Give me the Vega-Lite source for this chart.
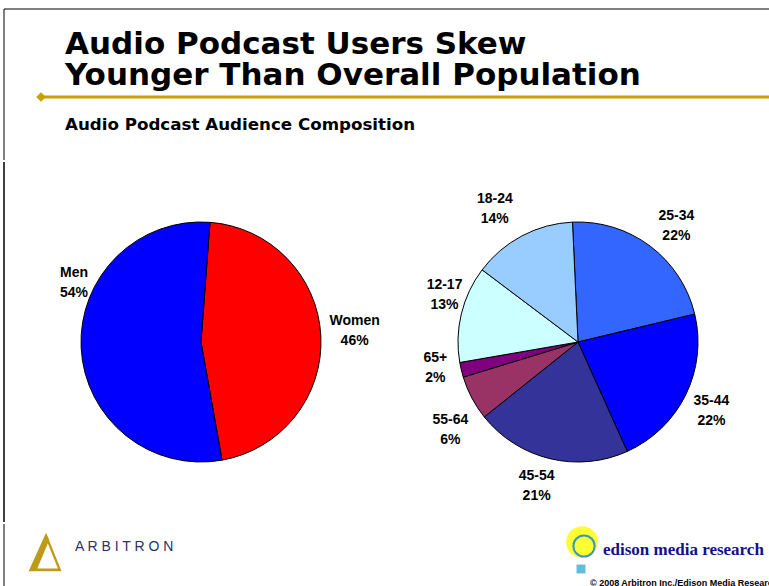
{
  "$schema": "https://vega.github.io/schema/vega-lite/v6.json",
  "background": "white",
  "padding": 0,
  "spacing": 0,
  "config": {"view": {"stroke": null}, "text": {"font": "Liberation Sans"}},
  "vconcat": [
    {
      "width": 769,
      "height": 160,
      "data": {"values": [{}]},
      "layer": [
        {
          "mark": {"type": "rule", "color": "black", "strokeWidth": 1},
          "encoding": {
            "x": {"datum": 4, "type": "quantitative", "scale": {"domain": [0, 769], "nice": false, "zero": false}, "axis": null},
            "x2": {"datum": 769},
            "y": {"datum": 9, "type": "quantitative", "scale": {"domain": [0, 160], "reverse": true, "nice": false, "zero": false}, "axis": null}
          }
        },
        {
          "mark": {"type": "rule", "color": "black", "strokeWidth": 1},
          "encoding": {
            "x": {"datum": 4, "type": "quantitative", "scale": {"domain": [0, 769], "nice": false, "zero": false}, "axis": null},
            "y": {"datum": 9, "type": "quantitative", "scale": {"domain": [0, 160], "reverse": true, "nice": false, "zero": false}, "axis": null},
            "y2": {"datum": 160}
          }
        },
        {
          "mark": {"type": "rule", "color": "#C8A000", "strokeWidth": 3},
          "encoding": {
            "x": {"datum": 40, "type": "quantitative", "scale": {"domain": [0, 769], "nice": false, "zero": false}, "axis": null},
            "x2": {"datum": 769},
            "y": {"datum": 97, "type": "quantitative", "scale": {"domain": [0, 160], "reverse": true, "nice": false, "zero": false}, "axis": null}
          }
        },
        {
          "mark": {"type": "point", "shape": "diamond", "filled": true, "color": "#C8A000", "size": 90, "opacity": 1},
          "encoding": {
            "x": {"datum": 41, "type": "quantitative", "scale": {"domain": [0, 769], "nice": false, "zero": false}, "axis": null},
            "y": {"datum": 97, "type": "quantitative", "scale": {"domain": [0, 160], "reverse": true, "nice": false, "zero": false}, "axis": null}
          }
        },
        {
          "mark": {"type": "text", "text": ["Audio Podcast Users Skew", "Younger Than Overall Population"], "align": "left", "baseline": "alphabetic", "font": "DejaVu Sans", "fontWeight": "bold", "fontSize": 31, "lineHeight": 31, "color": "black"},
          "encoding": {
            "x": {"datum": 65, "type": "quantitative", "scale": {"domain": [0, 769], "nice": false, "zero": false}, "axis": null},
            "y": {"datum": 54, "type": "quantitative", "scale": {"domain": [0, 160], "reverse": true, "nice": false, "zero": false}, "axis": null}
          }
        },
        {
          "mark": {"type": "text", "text": "Audio Podcast Audience Composition", "align": "left", "baseline": "alphabetic", "font": "DejaVu Sans", "fontWeight": "bold", "fontSize": 16.7, "color": "black"},
          "encoding": {
            "x": {"datum": 65, "type": "quantitative", "scale": {"domain": [0, 769], "nice": false, "zero": false}, "axis": null},
            "y": {"datum": 130, "type": "quantitative", "scale": {"domain": [0, 160], "reverse": true, "nice": false, "zero": false}, "axis": null}
          }
        }
      ]
    },
    {
      "spacing": 0,
      "resolve": {"scale": {"color": "independent", "theta": "independent"}},
      "hconcat": [
        {
          "width": 402,
          "height": 360,
          "data": {"values": [
            {"sex": "Women", "share": 0.46, "rank": 1},
            {"sex": "Men", "share": 0.54, "rank": 2}
          ]},
          "layer": [
            {
              "mark": {"type": "rule", "color": "black", "strokeWidth": 1},
              "encoding": {
                "x": {"datum": 4, "type": "quantitative", "scale": {"domain": [0, 402], "nice": false, "zero": false}, "axis": null}
              }
            },
            {
              "encoding": {
                "theta": {"field": "share", "type": "quantitative", "stack": true, "scale": {"range": [0.075, 6.3582]}},
                "order": {"field": "rank", "type": "quantitative"},
                "detail": {"field": "sex"}
              },
              "layer": [
                {
                  "mark": {"type": "arc", "outerRadius": 120, "stroke": "black", "strokeWidth": 1},
                  "encoding": {
                    "color": {"field": "sex", "type": "nominal", "scale": {"domain": ["Men", "Women"], "range": ["#0000FF", "#FF0000"]}, "legend": null}
                  }
                },
                {
                  "mark": {"type": "text", "radius": 154, "thetaOffset": -0.021, "dy": -10, "fontSize": 14, "fontWeight": "bold", "color": "black"},
                  "encoding": {"text": {"condition": {"test": "datum.sex == 'Women'", "field": "sex"}, "value": ""}}
                },
                {
                  "mark": {"type": "text", "radius": 154, "thetaOffset": -0.021, "dy": 10, "fontSize": 14, "fontWeight": "bold", "color": "black"},
                  "encoding": {"text": {"condition": {"test": "datum.sex == 'Women'", "field": "share", "format": ".0%"}, "value": ""}}
                },
                {
                  "mark": {"type": "text", "radius": 140, "thetaOffset": 0.485, "dy": -10, "fontSize": 14, "fontWeight": "bold", "color": "black"},
                  "encoding": {"text": {"condition": {"test": "datum.sex == 'Men'", "field": "sex"}, "value": ""}}
                },
                {
                  "mark": {"type": "text", "radius": 140, "thetaOffset": 0.485, "dy": 10, "fontSize": 14, "fontWeight": "bold", "color": "black"},
                  "encoding": {"text": {"condition": {"test": "datum.sex == 'Men'", "field": "share", "format": ".0%"}, "value": ""}}
                }
              ]
            }
          ]
        },
        {
          "width": 352,
          "height": 360,
          "data": {"values": [
            {"age": "25-34", "share": 0.22, "rank": 1},
            {"age": "35-44", "share": 0.22, "rank": 2},
            {"age": "45-54", "share": 0.21, "rank": 3},
            {"age": "55-64", "share": 0.06, "rank": 4},
            {"age": "65+", "share": 0.02, "rank": 5},
            {"age": "12-17", "share": 0.13, "rank": 6},
            {"age": "18-24", "share": 0.14, "rank": 7}
          ]},
          "encoding": {
            "theta": {"field": "share", "type": "quantitative", "stack": true, "scale": {"range": [-0.046, 6.2372]}},
            "order": {"field": "rank", "type": "quantitative"},
            "detail": {"field": "age"}
          },
          "layer": [
            {
              "mark": {"type": "arc", "outerRadius": 120, "stroke": "black", "strokeWidth": 1},
              "encoding": {
                "color": {"field": "age", "type": "nominal", "scale": {"domain": ["25-34", "35-44", "45-54", "55-64", "65+", "12-17", "18-24"], "range": ["#3366FF", "#0000FF", "#333399", "#993366", "#800080", "#CCFFFF", "#99CCFF"]}, "legend": null}
              }
            },
            {
              "mark": {"type": "text", "radius": 152, "thetaOffset": 0.0588, "dy": -10, "fontSize": 14, "fontWeight": "bold", "color": "black"},
              "encoding": {"text": {"condition": {"test": "datum.age == '25-34'", "field": "age"}, "value": ""}}
            },
            {
              "mark": {"type": "text", "radius": 152, "thetaOffset": 0.0588, "dy": 10, "fontSize": 14, "fontWeight": "bold", "color": "black"},
              "encoding": {"text": {"condition": {"test": "datum.age == '25-34'", "field": "share", "format": ".0%"}, "value": ""}}
            },
            {
              "mark": {"type": "text", "radius": 150, "thetaOffset": 0.018, "dy": -10, "fontSize": 14, "fontWeight": "bold", "color": "black"},
              "encoding": {"text": {"condition": {"test": "datum.age == '35-44'", "field": "age"}, "value": ""}}
            },
            {
              "mark": {"type": "text", "radius": 150, "thetaOffset": 0.018, "dy": 10, "fontSize": 14, "fontWeight": "bold", "color": "black"},
              "encoding": {"text": {"condition": {"test": "datum.age == '35-44'", "field": "share", "format": ".0%"}, "value": ""}}
            },
            {
              "mark": {"type": "text", "radius": 150, "thetaOffset": 0.0426, "dy": -10, "fontSize": 14, "fontWeight": "bold", "color": "black"},
              "encoding": {"text": {"condition": {"test": "datum.age == '45-54'", "field": "age"}, "value": ""}}
            },
            {
              "mark": {"type": "text", "radius": 150, "thetaOffset": 0.0426, "dy": 10, "fontSize": 14, "fontWeight": "bold", "color": "black"},
              "encoding": {"text": {"condition": {"test": "datum.age == '45-54'", "field": "share", "format": ".0%"}, "value": ""}}
            },
            {
              "mark": {"type": "text", "radius": 155, "thetaOffset": -0.118, "dy": -10, "fontSize": 14, "fontWeight": "bold", "color": "black"},
              "encoding": {"text": {"condition": {"test": "datum.age == '55-64'", "field": "age"}, "value": ""}}
            },
            {
              "mark": {"type": "text", "radius": 155, "thetaOffset": -0.118, "dy": 10, "fontSize": 14, "fontWeight": "bold", "color": "black"},
              "encoding": {"text": {"condition": {"test": "datum.age == '55-64'", "field": "share", "format": ".0%"}, "value": ""}}
            },
            {
              "mark": {"type": "text", "radius": 145, "thetaOffset": 0.054, "dy": -10, "fontSize": 14, "fontWeight": "bold", "color": "black"},
              "encoding": {"text": {"condition": {"test": "datum.age == '65+'", "field": "age"}, "value": ""}}
            },
            {
              "mark": {"type": "text", "radius": 145, "thetaOffset": 0.054, "dy": 10, "fontSize": 14, "fontWeight": "bold", "color": "black"},
              "encoding": {"text": {"condition": {"test": "datum.age == '65+'", "field": "share", "format": ".0%"}, "value": ""}}
            },
            {
              "mark": {"type": "text", "radius": 141.5, "thetaOffset": 0.102, "dy": -10, "fontSize": 14, "fontWeight": "bold", "color": "black"},
              "encoding": {"text": {"condition": {"test": "datum.age == '12-17'", "field": "age"}, "value": ""}}
            },
            {
              "mark": {"type": "text", "radius": 141.5, "thetaOffset": 0.102, "dy": 10, "fontSize": 14, "fontWeight": "bold", "color": "black"},
              "encoding": {"text": {"condition": {"test": "datum.age == '12-17'", "field": "share", "format": ".0%"}, "value": ""}}
            },
            {
              "mark": {"type": "text", "radius": 157, "thetaOffset": -0.0726, "dy": -10, "fontSize": 14, "fontWeight": "bold", "color": "black"},
              "encoding": {"text": {"condition": {"test": "datum.age == '18-24'", "field": "age"}, "value": ""}}
            },
            {
              "mark": {"type": "text", "radius": 157, "thetaOffset": -0.0726, "dy": 10, "fontSize": 14, "fontWeight": "bold", "color": "black"},
              "encoding": {"text": {"condition": {"test": "datum.age == '18-24'", "field": "share", "format": ".0%"}, "value": ""}}
            }
          ]
        }
      ]
    },
    {
      "width": 769,
      "height": 66,
      "data": {"values": [{}]},
      "layer": [
        {
          "mark": {"type": "rule", "color": "black", "strokeWidth": 1},
          "encoding": {
            "x": {"datum": 4, "type": "quantitative", "scale": {"domain": [0, 769], "nice": false, "zero": false}, "axis": null}
          }
        },
        {
          "mark": {"type": "point", "shape": "M -0.95 1 L -0.05 -1 L 0.12 -0.62 L -0.5 0.85 L 0.55 0.85 L 0.7 1 Z M -0.05 -1 L 0.75 1 L 0.62 1 L -0.1 -0.8 Z", "filled": true, "color": "#BE9A1A", "size": 1500, "opacity": 1},
          "encoding": {
            "x": {"datum": 47, "type": "quantitative", "scale": {"domain": [0, 769], "nice": false, "zero": false}, "axis": null},
            "y": {"datum": 28, "type": "quantitative", "scale": {"domain": [0, 66], "reverse": true, "nice": false, "zero": false}, "axis": null}
          }
        },
        {
          "mark": {"type": "text", "text": "A R B I T R O N", "align": "left", "baseline": "middle", "fontSize": 14, "color": "#2E3067"},
          "encoding": {
            "x": {"datum": 75, "type": "quantitative", "scale": {"domain": [0, 769], "nice": false, "zero": false}, "axis": null},
            "y": {"datum": 23, "type": "quantitative", "scale": {"domain": [0, 66], "reverse": true, "nice": false, "zero": false}, "axis": null}
          }
        },
        {
          "mark": {"type": "point", "shape": "circle", "filled": true, "color": "#FFFF33", "size": 1000, "opacity": 1},
          "encoding": {
            "x": {"datum": 582, "type": "quantitative", "scale": {"domain": [0, 769], "nice": false, "zero": false}, "axis": null},
            "y": {"datum": 18, "type": "quantitative", "scale": {"domain": [0, 66], "reverse": true, "nice": false, "zero": false}, "axis": null}
          }
        },
        {
          "mark": {"type": "point", "shape": "circle", "filled": false, "stroke": "#3399CC", "strokeWidth": 2, "size": 450, "opacity": 1},
          "encoding": {
            "x": {"datum": 584, "type": "quantitative", "scale": {"domain": [0, 769], "nice": false, "zero": false}, "axis": null},
            "y": {"datum": 22, "type": "quantitative", "scale": {"domain": [0, 66], "reverse": true, "nice": false, "zero": false}, "axis": null}
          }
        },
        {
          "mark": {"type": "point", "shape": "square", "filled": true, "color": "#66BBDD", "size": 80, "opacity": 1},
          "encoding": {
            "x": {"datum": 581, "type": "quantitative", "scale": {"domain": [0, 769], "nice": false, "zero": false}, "axis": null},
            "y": {"datum": 45, "type": "quantitative", "scale": {"domain": [0, 66], "reverse": true, "nice": false, "zero": false}, "axis": null}
          }
        },
        {
          "mark": {"type": "text", "text": "edison media research", "align": "left", "baseline": "alphabetic", "font": "Liberation Serif", "fontWeight": "bold", "fontSize": 17, "color": "#10108C"},
          "encoding": {
            "x": {"datum": 603, "type": "quantitative", "scale": {"domain": [0, 769], "nice": false, "zero": false}, "axis": null},
            "y": {"datum": 31, "type": "quantitative", "scale": {"domain": [0, 66], "reverse": true, "nice": false, "zero": false}, "axis": null}
          }
        },
        {
          "mark": {"type": "text", "text": "© 2008 Arbitron Inc./Edison Media Research", "align": "left", "baseline": "alphabetic", "fontWeight": "bold", "fontSize": 9, "color": "black"},
          "encoding": {
            "x": {"datum": 590, "type": "quantitative", "scale": {"domain": [0, 769], "nice": false, "zero": false}, "axis": null},
            "y": {"datum": 62, "type": "quantitative", "scale": {"domain": [0, 66], "reverse": true, "nice": false, "zero": false}, "axis": null}
          }
        }
      ]
    }
  ]
}
